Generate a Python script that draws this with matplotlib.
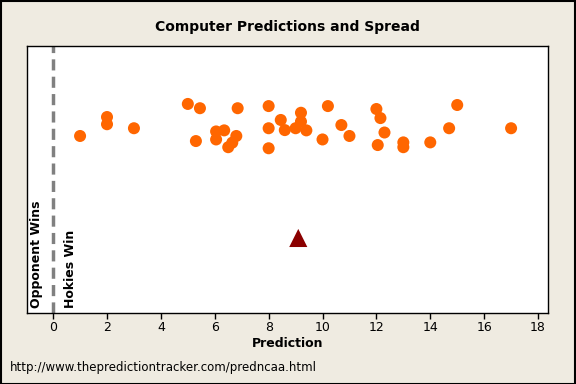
import matplotlib
matplotlib.use("Agg")
import matplotlib.pyplot as plt

# Computer predictions (x) and vertical jitter position (y, 0-100 scale)
pred_x = [1.0, 2.0, 2.0, 3.0, 5.0, 5.45, 5.3, 6.05, 6.35, 6.05, 6.5, 6.8, 6.65, 6.85,
          8.0, 8.0, 8.0, 8.45, 8.6, 9.0, 9.2, 9.2, 9.4, 10.2, 10.0, 10.7, 11.0,
          12.0, 12.15, 12.3, 12.05, 13.0, 13.0, 14.0, 14.7, 15.0, 17.0]
pred_y = [66.3, 73.4, 70.7, 69.2, 78.3, 76.7, 64.4, 68.0, 68.4, 65.0, 62.1, 66.3, 63.8, 76.7,
          77.5, 69.2, 61.7, 72.3, 68.5, 69.2, 75.0, 71.7, 68.4, 77.5, 65.0, 70.4, 66.3,
          76.4, 73.0, 67.6, 62.9, 63.9, 62.1, 63.9, 69.2, 77.9, 69.2]

spread_x = [9.1]
spread_y = [28.1]

xticks = [0, 2, 4, 6, 8, 10, 12, 14, 16, 18]

bg = "#EFEBE1"
fig = plt.figure(figsize=(5.76, 3.84), dpi=100, facecolor=bg)
ax = fig.add_axes([27/576, 1-313/384, (548-27)/576, (313-46)/384])
ax.set_facecolor("white")

ax.axvline(0, color="#808080", lw=2.5, ls=(0, (3.2, 1.8)), zorder=1)
ax.scatter(pred_x, pred_y, s=75, color="#FF6600", edgecolors="none", zorder=3)
ax.scatter(spread_x, spread_y, s=170, marker="^", color="#8B0000", edgecolors="none", zorder=3)

ax.set_xlim(-0.97, 18.37)
ax.set_ylim(0, 100)
ax.set_yticks([])
ax.set_xticks(xticks)
ax.tick_params(axis="x", direction="out", length=4, width=1, labelsize=9, pad=2)
for s in ax.spines.values():
    s.set_linewidth(1)
    s.set_color("black")

ax.set_xlabel("Prediction", fontsize=9, fontweight="bold", labelpad=2)
ax.text(-0.62, 2, "Opponent Wins", rotation=90, ha="center", va="bottom",
        fontsize=9, fontweight="bold")
ax.text(0.65, 2, "Hokies Win", rotation=90, ha="center", va="bottom",
        fontsize=9, fontweight="bold")

fig.text(287.5/576, 1-27/384, "Computer Predictions and Spread", ha="center", va="center",
         fontsize=10, fontweight="bold")
fig.text(10/576, 1-367/384, "http://www.thepredictiontracker.com/predncaa.html",
         ha="left", va="center", fontsize=8.5)

fig.patches.append(plt.Rectangle((0.001, 0.001), 0.997, 0.997, transform=fig.transFigure,
                                 fill=False, edgecolor="black", lw=1.5))

fig.savefig("out.png", dpi=100, facecolor=bg)
